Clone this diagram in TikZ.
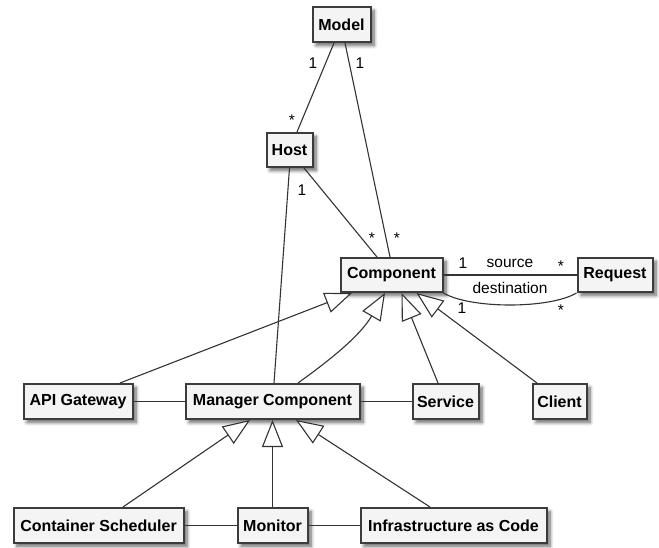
\documentclass[tikz,border=0pt]{standalone}
\usepackage{fontspec}
\setmainfont{Liberation Sans}
\usetikzlibrary{arrows.meta,shadows.blur}
\definecolor{boxfill}{HTML}{F4F4F4}
\definecolor{boxline}{HTML}{3C3C3C}
\definecolor{edgecol}{HTML}{333333}
\tikzset{
  cls/.style={draw=boxline, line width=2pt, fill=boxfill, minimum height=35pt, inner sep=0pt,
    font=\fontsize{16}{19}\selectfont\bfseries,
    blur shadow={shadow xshift=3.5pt, shadow yshift=-3.5pt, shadow blur radius=3.5pt, shadow blur steps=8, shadow opacity=60}},
  edge/.style={draw=edgecol, line width=1.1pt},
  inh/.style={edge, -{Triangle[length=27pt,width=21pt,fill=white]}},
  lbl/.style={font=\fontsize{15.5}{18}\selectfont, inner sep=0pt, text=black},
}
\begin{document}
\begin{tikzpicture}[x=1pt,y=-1pt]
\useasboundingbox (0,0) rectangle (659,548);
% classes
\node[cls, minimum width=58pt] (model) at (341.5,24.5) {Model};
\node[cls, minimum width=46pt, minimum height=34pt] (host) at (289.5,150) {Host};
\node[cls, minimum width=102pt, minimum height=34pt] (comp) at (391.5,275) {Component};
\node[cls, minimum width=75pt, minimum height=34pt] (req) at (615,275) {Request};
\node[cls, minimum width=109pt, minimum height=35pt] (api) at (78,401.5) {API Gateway};
\node[cls, minimum width=174pt, minimum height=35pt] (mgr) at (272.5,401.5) {Manager Component};
\node[cls, minimum width=66pt, minimum height=35pt] (svc) at (445.5,401.5) {Service};
\node[cls, minimum width=54pt, minimum height=35pt] (client) at (559.5,401.5) {Client};
\node[cls, minimum width=170pt] (sched) at (98.5,525.5) {Container Scheduler};
\node[cls, minimum width=70pt] (mon) at (272.5,525.5) {Monitor};
\node[cls, minimum width=186pt] (iac) at (453.5,525.5) {Infrastructure as Code};
% associations
\draw[edge] ([xshift=-7.5pt]model.south) -- ([xshift=7.5pt]host.north);
\draw[edge] ([xshift=3.5pt]model.south) -- ([xshift=-1.5pt]comp.north);
\draw[edge] ([xshift=14.5pt]host.south) -- ([xshift=-14.5pt]comp.north);
\draw[edge] (host.south) -- ([xshift=1.5pt]mgr.north);
\draw[edge] (comp.east) -- (req.west);
\draw[edge] (comp.south east) .. controls +(27,16) and +(-27,16) .. (req.south west);
\draw[edge] (api.east) -- (mgr.west);
\draw[edge] (mgr.east) -- (svc.west);
\draw[edge] (sched.east) -- (mon.west);
\draw[edge] (mon.east) -- (iac.west);
% generalisations
\draw[inh] ([xshift=42pt]api.north) -- ([xshift=-39.5pt]comp.south);
\draw[inh] ([xshift=25.5pt]mgr.north) .. controls +(32,-23) and +(-25,43) .. ([xshift=-6.5pt]comp.south);
\draw[inh] ([xshift=-7.5pt]svc.north) -- ([xshift=10pt]comp.south);
\draw[inh] ([xshift=-22.5pt]client.north) -- ([xshift=25pt]comp.south);
\draw[inh] ([xshift=24.5pt]sched.north) -- ([xshift=-22.5pt]mgr.south);
\draw[inh] (mon.north) -- (mgr.south);
\draw[inh] ([xshift=-23.5pt]iac.north) -- ([xshift=23.5pt]mgr.south);
% multiplicities and roles
\node[lbl] (m1) at (313,63) {1};
\node[lbl] (m2) at (292,120) {*};
\node[lbl] (m3) at (360,63) {1};
\node[lbl] (m4) at (302,190) {1};
\node[lbl] (m5) at (372,238) {*};
\node[lbl] (m6) at (397,238) {*};
\node[lbl] (m7) at (463,263) {1};
\node[lbl] (r1) at (510,263) {source};
\node[lbl] (m8) at (561,266) {*};
\node[lbl] (r2) at (510,288) {destination};
\node[lbl] (m9) at (462,308) {1};
\node[lbl] (m10) at (561,310) {*};
\end{tikzpicture}
\end{document}
